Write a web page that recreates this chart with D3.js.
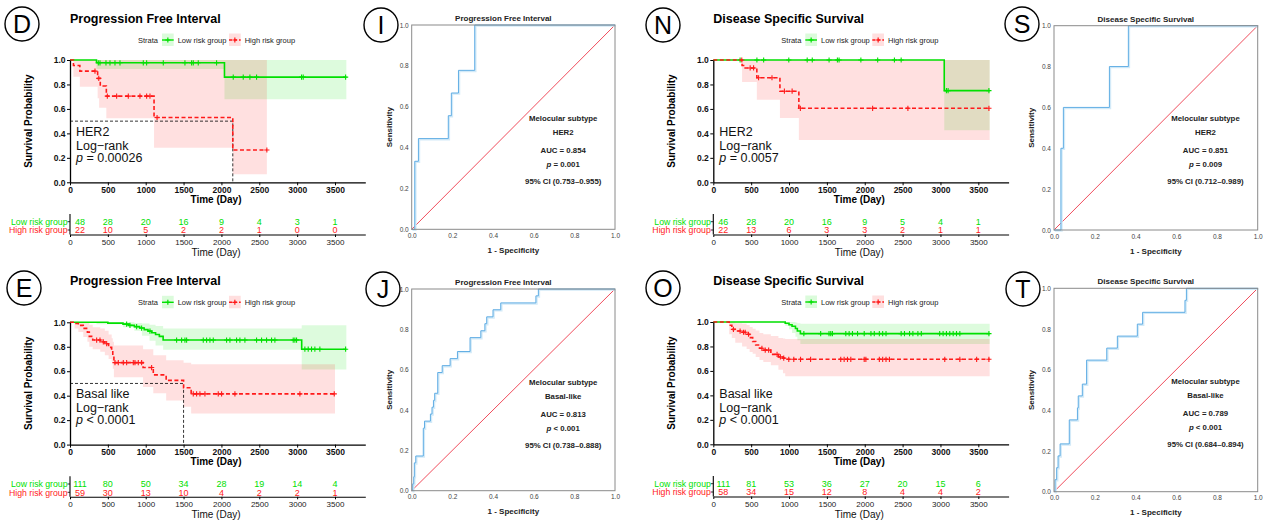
<!DOCTYPE html>
<html>
<head>
<meta charset="utf-8">
<script src="https://cdn.jsdelivr.net/npm/d3@7"></script>
<style>
  body { margin: 0; background: #fff; }
  svg { display: block; }
  text { font-family: "Liberation Sans", Arial, sans-serif; }
</style>
</head>
<body>
<svg id="fig" width="1263" height="523"></svg>
<script>
// ---- shared ticks / labels ----
var timeTicks = [0, 500, 1000, 1500, 2000, 2500, 3000, 3500];
var probTicks = [0, 0.2, 0.4, 0.6, 0.8, 1.0];
var rocTicks = [0, 0.2, 0.4, 0.6, 0.8, 1.0];
var riskLabels = ["Low risk group", "High risk group"];

// ---- D: PFI, HER2 ----
var dLowTime = [0, 350, 2040], dLowSurv = [1, 0.977, 0.86], dLowEnd = 3650;
var dLowCiTime = [350, 2040], dLowCiLo = [0.926, 0.68], dLowCiHi = [1, 1];
var dLowCens = [374, 396, 475, 528, 594, 660, 968, 1012, 1232, 1518, 1606, 1628, 1694, 1936, 2156, 2288, 2376, 2464, 3058, 3080, 3640];
var dHighTime = [0, 45, 130, 365, 400, 480, 1110, 2150], dHighSurv = [1, 0.955, 0.909, 0.85, 0.787, 0.705, 0.53, 0.264], dHighEnd = 2600;
var dHighCiTime = [45, 130, 365, 385, 400, 480, 1110, 2150], dHighCiLo = [0.864, 0.782, 0.687, 0.61, 0.61, 0.523, 0.283, 0.065], dHighCiHi = [1, 1, 1, 1, 1, 1, 1, 1];
var dHighCens = [330, 380, 493, 616, 770, 924, 1012, 1056, 1150, 2600];
var dRiskLow = [48, 28, 20, 16, 9, 4, 3, 1], dRiskHigh = [22, 10, 5, 2, 2, 1, 0, 0];

// ---- N: DSS, HER2 ----
var nLowTime = [0, 3050], nLowSurv = [1, 0.75], nLowEnd = 3650;
var nLowCiTime = [3050], nLowCiLo = [0.425], nLowCiHi = [1];
var nLowCens = [354, 576, 665, 997, 1240, 1307, 1529, 1639, 1661, 1949, 2171, 2392, 2481, 3079, 3101, 3640];
var nHighTime = [0, 380, 400, 575, 880, 1130], nHighSurv = [1, 0.955, 0.935, 0.855, 0.745, 0.605], nHighEnd = 3650;
var nHighCiTime = [380, 575, 880, 1130], nHighCiLo = [0.82, 0.675, 0.525, 0.345], nHighCiHi = [1, 1, 1, 1];
var nHighCens = [376, 487, 532, 598, 775, 939, 1041, 1150, 2104, 2570, 3640];
var nRiskLow = [46, 28, 20, 16, 9, 5, 4, 1], nRiskHigh = [22, 13, 6, 3, 3, 2, 1, 1];

// ---- E: PFI, Basal like ----
var eLowTime = [0, 500, 700, 780, 850, 920, 980, 1030, 1080, 1130, 1180, 1230, 3060];
var eLowSurv = [1, 0.993, 0.985, 0.975, 0.965, 0.953, 0.94, 0.928, 0.915, 0.9, 0.885, 0.855, 0.78], eLowEnd = 3650;
var eLowCiTime = [350, 700, 850, 950, 1050, 1130, 1230, 3060];
var eLowCiLo = [0.985, 0.96, 0.93, 0.89, 0.85, 0.81, 0.775, 0.615];
var eLowCiHi = [1, 1, 0.995, 0.99, 0.98, 0.97, 0.95, 0.975];
var eLowCens = [748, 792, 880, 946, 1056, 1408, 1474, 1518, 1540, 1760, 1804, 1848, 1892, 2068, 2112, 2200, 2244, 2310, 2464, 2530, 2596, 2662, 2706, 2948, 2970, 2992, 3102, 3146, 3190, 3234, 3300, 3640];
var eHighTime = [0, 60, 110, 175, 230, 255, 300, 400, 460, 510, 550, 565, 580, 965, 1100, 1270, 1500, 1600];
var eHighSurv = [1, 0.99, 0.975, 0.95, 0.92, 0.885, 0.855, 0.84, 0.825, 0.795, 0.77, 0.73, 0.67, 0.63, 0.57, 0.525, 0.465, 0.415], eHighEnd = 3500;
var eHighCiTime = [60, 110, 175, 230, 255, 300, 400, 460, 510, 550, 565, 580, 965, 1100, 1270, 1500, 1600];
var eHighCiLo = [0.95, 0.92, 0.88, 0.84, 0.8, 0.78, 0.76, 0.73, 0.7, 0.68, 0.62, 0.55, 0.47, 0.42, 0.36, 0.31, 0.255];
var eHighCiHi = [1, 1, 1, 1, 0.98, 0.96, 0.95, 0.93, 0.9, 0.87, 0.84, 0.81, 0.78, 0.73, 0.69, 0.67, 0.656];
var eHighCens = [352, 396, 440, 484, 594, 638, 704, 748, 836, 858, 902, 946, 1078, 1628, 1672, 1716, 1782, 1958, 2002, 2178, 3036, 3490];
var eRiskLow = [111, 80, 50, 34, 28, 19, 14, 4], eRiskHigh = [59, 30, 13, 10, 4, 2, 2, 1];

// ---- O: DSS, Basal like ----
var oLowTime = [0, 950, 1000, 1040, 1085, 1110, 1150], oLowSurv = [1, 0.99, 0.978, 0.965, 0.947, 0.927, 0.905], oLowEnd = 3650;
var oLowCiTime = [950, 1000, 1040, 1085, 1110, 1150], oLowCiLo = [0.97, 0.94, 0.91, 0.88, 0.85, 0.82], oLowCiHi = [1, 1, 1, 0.995, 0.99, 0.985];
var oLowCens = [1196, 1418, 1528, 1551, 1573, 1750, 1794, 1838, 1905, 1993, 2082, 2126, 2193, 2237, 2281, 2481, 2525, 2592, 2636, 2702, 2747, 2990, 3035, 3079, 3123, 3168, 3212, 3256, 3640];
var oHighTime = [0, 210, 245, 290, 380, 440, 480, 520, 560, 610, 660, 760, 860, 920, 950];
var oHighSurv = [1, 0.973, 0.94, 0.926, 0.916, 0.9, 0.872, 0.84, 0.812, 0.785, 0.77, 0.735, 0.715, 0.705, 0.695], oHighEnd = 3650;
var oHighCiTime = [210, 245, 290, 380, 440, 480, 520, 560, 610, 660, 760, 860, 920, 950];
var oHighCiLo = [0.9, 0.87, 0.83, 0.8, 0.78, 0.755, 0.74, 0.714, 0.69, 0.673, 0.646, 0.61, 0.58, 0.556];
var oHighCiHi = [1, 1, 0.99, 0.985, 0.975, 0.96, 0.945, 0.93, 0.91, 0.9, 0.885, 0.87, 0.865, 0.86];
var oHighCens = [266, 354, 399, 421, 465, 642, 686, 731, 842, 886, 930, 997, 1063, 1152, 1285, 1683, 1728, 1772, 1816, 1993, 2015, 2193, 2237, 2281, 2326, 3057, 3256, 3478, 3640];
var oRiskLow = [111, 81, 53, 36, 27, 20, 15, 6], oRiskHigh = [58, 34, 15, 12, 8, 4, 4, 2];

// ---- ROC curves (corner points, drawn as steps) ----
var iFpr = [0, 0.015, 0.033, 0.18, 0.195, 0.23, 0.31, 1];
var iTpr = [0, 0.333, 0.444, 0.556, 0.667, 0.778, 1, 1];
var sFpr = [0, 0.034, 0.046, 0.272, 0.365, 1];
var sTpr = [0, 0.4, 0.6, 0.8, 1, 1];
var jFpr = [0, 0.005, 0.01, 0.013, 0.02, 0.057, 0.063, 0.092, 0.1, 0.107, 0.113, 0.128, 0.15, 0.189, 0.225, 0.287, 0.34, 0.36, 0.369, 0.4, 0.438, 0.611, 0.623, 1];
var jTpr = [0, 0.034, 0.069, 0.138, 0.172, 0.31, 0.345, 0.38, 0.414, 0.448, 0.483, 0.586, 0.62, 0.655, 0.69, 0.759, 0.793, 0.828, 0.862, 0.897, 0.931, 0.966, 1, 1];
var tFpr = [0, 0.005, 0.013, 0.02, 0.03, 0.075, 0.115, 0.119, 0.139, 0.16, 0.259, 0.311, 0.409, 0.435, 0.643, 0.65, 1];
var tTpr = [0, 0.059, 0.118, 0.176, 0.235, 0.353, 0.412, 0.471, 0.529, 0.647, 0.706, 0.765, 0.824, 0.882, 0.941, 1, 1];

var green = "#00E000", red = "#FF1A1A";
var svg = d3.select("#fig");

function survAt(times, vals, t) {
  var v = vals[0];
  for (var i = 0; i < times.length; i++) { if (times[i] <= t) v = vals[i]; }
  return v;
}

function letterBadge(cx, cy, ch) {
  svg.append("circle").attr("cx", cx).attr("cy", cy).attr("r", 17)
    .attr("fill", "#fff").attr("stroke", "#000").attr("stroke-width", 1.4);
  svg.append("text").attr("x", cx).attr("y", cy + 9).attr("text-anchor", "middle")
    .style("font-size", "25px").text(ch);
}

function drawKM(ox, oy, p) {
  var g = svg.append("g");
  var x0 = ox + 70;
  var x = d3.scaleLinear().domain([0, 3900]).range([x0, x0 + 295.3]);
  var y = d3.scaleLinear().domain([0, 1]).range([oy + 182.3, oy + 60]);

  letterBadge(p.lx, p.ly, p.letter);
  g.append("text").attr("x", x0).attr("y", oy + 23).style("font-size", "12.5px")
    .style("font-weight", "bold").text(p.title);

  // legend
  var lg = g.append("g").style("font-size", "7.5px").style("fill", "#222");
  lg.append("text").attr("x", ox + 138).attr("y", oy + 42.5).text("Strata");
  [[p.low, green, null, 162, riskLabels[0]], [p.high, red, "3,2", 229, riskLabels[1]]].forEach(function (k) {
    var kx = ox + k[3];
    lg.append("rect").attr("x", kx).attr("y", oy + 33.5).attr("width", 11.7).attr("height", 12.5)
      .attr("fill", k[1]).attr("fill-opacity", 0.14);
    lg.append("line").attr("x1", kx).attr("x2", kx + 11.7).attr("y1", oy + 40).attr("y2", oy + 40)
      .attr("stroke", k[1]).attr("stroke-width", 1.4).attr("stroke-dasharray", k[2]);
    lg.append("path").attr("d", "M" + (kx + 3.3) + "," + (oy + 40) + "h5M" + (kx + 5.85) + "," + (oy + 37.5) + "v5")
      .attr("stroke", k[1]).attr("stroke-width", 1.2);
    lg.append("text").attr("x", kx + 15.7).attr("y", oy + 42.5).text(k[4]);
  });

  // confidence bands
  [[p.low, green], [p.high, red]].forEach(function (s) {
    var d = s[0];
    var pts = d.ciTime.map(function (t, i) { return [t, d.ciLo[i], d.ciHi[i]]; });
    pts.push([d.end, d.ciLo[d.ciLo.length - 1], d.ciHi[d.ciHi.length - 1]]);
    var area = d3.area().curve(d3.curveStepAfter)
      .x(function (q) { return x(q[0]); })
      .y0(function (q) { return y(q[1]); })
      .y1(function (q) { return y(q[2]); });
    g.append("path").attr("d", area(pts)).attr("fill", s[1]).attr("fill-opacity", 0.135);
  });

  // median line
  var med = null;
  for (var i = 0; i < p.high.time.length; i++) {
    if (p.high.surv[i] <= 0.5) { med = p.high.time[i]; break; }
  }
  if (med !== null) {
    g.append("path").attr("d", "M" + x(0) + "," + y(0.5) + "H" + x(med) + "V" + y(0))
      .attr("fill", "none").attr("stroke", "#000").attr("stroke-width", 0.8).attr("stroke-dasharray", "3,2");
  }

  // curves + censor marks
  [[p.low, green, null], [p.high, red, "4,2.5"]].forEach(function (s) {
    var d = s[0];
    var pts = d.time.map(function (t, i) { return [t, d.surv[i]]; });
    pts.push([d.end, d.surv[d.surv.length - 1]]);
    var line = d3.line().curve(d3.curveStepAfter)
      .x(function (q) { return x(q[0]); }).y(function (q) { return y(q[1]); });
    g.append("path").attr("d", line(pts)).attr("fill", "none").attr("stroke", s[1])
      .attr("stroke-width", 1.6).attr("stroke-dasharray", s[2]);
    g.selectAll(null).data(d.cens).enter().append("path")
      .attr("d", function (t) {
        var cx = x(t), cy = y(survAt(d.time, d.surv, t));
        return "M" + (cx - 2.6) + "," + cy + "h5.2M" + cx + "," + (cy - 2.6) + "v5.2";
      })
      .attr("stroke", s[1]).attr("stroke-width", 1.1);
  });

  // axes
  var ya = g.append("g").attr("transform", "translate(" + x0 + ",0)")
    .call(d3.axisLeft(y).tickValues(probTicks).tickFormat(d3.format(".1f")).tickSize(3).tickSizeOuter(0).tickPadding(1.5));
  var xa = g.append("g").attr("transform", "translate(0," + y(0) + ")")
    .call(d3.axisBottom(x).tickValues(timeTicks).tickFormat(d3.format("d")).tickSize(3).tickSizeOuter(0).tickPadding(1.5));
  [ya, xa].forEach(function (a) {
    a.select(".domain").attr("stroke", "#000").attr("stroke-width", 1.3);
    a.selectAll(".tick line").attr("stroke", "#000").attr("stroke-width", 1);
    a.selectAll("text").style("font-size", "8.5px").style("font-weight", "bold").attr("fill", "#111");
  });
  g.append("text").attr("x", ox + 216).attr("y", oy + 203).attr("text-anchor", "middle")
    .style("font-size", "10px").style("font-weight", "bold").text("Time (Day)");
  g.append("text").attr("transform", "translate(" + (ox + 31.5) + "," + (oy + 121) + ") rotate(-90)")
    .attr("text-anchor", "middle").style("font-size", "10px").style("font-weight", "bold")
    .text("Survival Probability");

  // annotation
  var an = g.append("g").style("font-size", "12.5px").attr("fill", "#111");
  an.append("text").attr("x", x0 + 6).attr("y", oy + 135.5).text(p.subtype);
  an.append("text").attr("x", x0 + 6).attr("y", oy + 149.5).text("Log\u2212rank");
  var pt = an.append("text").attr("x", x0 + 6).attr("y", oy + 162);
  pt.append("tspan").style("font-style", "italic").text("p");
  pt.append("tspan").text(" " + p.pText);

  // risk table
  var rt = g.append("g");
  var ry = [oy + 225, oy + 233.3];
  rt.append("line").attr("x1", x0).attr("x2", x0).attr("y1", oy + 214).attr("y2", oy + 234.5)
    .attr("stroke", "#000").attr("stroke-width", 1.1);
  [[p.riskLow, green], [p.riskHigh, red]].forEach(function (r, k) {
    rt.append("line").attr("x1", x0 - 2.5).attr("x2", x0).attr("y1", ry[k] - 3.3).attr("y2", ry[k] - 3.3)
      .attr("stroke", "#000").attr("stroke-width", 0.8);
    rt.append("text").attr("x", x0 - 2.5).attr("y", ry[k]).attr("text-anchor", "end")
      .style("font-size", "8.7px").attr("fill", r[1]).text(riskLabels[k]);
    rt.selectAll(null).data(r[0]).enter().append("text")
      .attr("x", function (v, i) { return i === 0 ? x(timeTicks[i]) + 10 : x(timeTicks[i]); })
      .attr("y", ry[k]).attr("text-anchor", "middle").style("font-size", "9px").attr("fill", r[1])
      .text(function (v) { return v; });
  });
  var ra = rt.append("g").attr("transform", "translate(0," + (oy + 234.5) + ")")
    .call(d3.axisBottom(x).tickValues(timeTicks).tickFormat(d3.format("d")).tickSize(2.5).tickSizeOuter(0).tickPadding(2));
  ra.select(".domain").attr("stroke", "#000").attr("stroke-width", 1.1);
  ra.selectAll("text").style("font-size", "8px").attr("fill", "#222");
  rt.append("text").attr("x", ox + 216).attr("y", oy + 256).attr("text-anchor", "middle")
    .style("font-size", "10px").attr("fill", "#111").text("Time (Day)");
}

function drawROC(bx0, by0, bx1, by1, p) {
  var g = svg.append("g");
  var x = d3.scaleLinear().domain([0, 1]).range([bx0, bx1]);
  var y = d3.scaleLinear().domain([0, 1]).range([by1, by0]);
  var cx = (bx0 + bx1) / 2;

  g.append("text").attr("x", cx - 10).attr("y", by0 - 4).attr("text-anchor", "middle")
    .style("font-size", "8px").style("font-weight", "bold").attr("fill", "#222").text(p.title);

  g.append("line").attr("x1", x(0)).attr("y1", y(0)).attr("x2", x(1)).attr("y2", y(1))
    .attr("stroke", "#F04C5C").attr("stroke-width", 1);

  var pts = p.fpr.map(function (f, i) { return [f, p.tpr[i]]; });
  var line = d3.line().curve(d3.curveStepAfter)
    .x(function (q) { return x(q[0]); }).y(function (q) { return y(q[1]); });
  g.append("path").attr("d", line(pts)).attr("fill", "none").attr("stroke", "#D3EAF8")
    .attr("stroke-width", 2).attr("transform", "translate(0.8,0.8)");
  g.append("path").attr("d", line(pts)).attr("fill", "none").attr("stroke", "#62AEE4")
    .attr("stroke-width", 1);

  g.append("rect").attr("x", bx0).attr("y", by0).attr("width", bx1 - bx0).attr("height", by1 - by0)
    .attr("fill", "none").attr("stroke", "#8a8a8a").attr("stroke-width", 1);

  var ya = g.append("g").attr("transform", "translate(" + bx0 + ",0)")
    .call(d3.axisLeft(y).tickValues(rocTicks).tickFormat(d3.format(".1f")).tickSize(0).tickPadding(3));
  var xa = g.append("g").attr("transform", "translate(0," + by1 + ")")
    .call(d3.axisBottom(x).tickValues(rocTicks).tickFormat(d3.format(".1f")).tickSize(0).tickPadding(4));
  [ya, xa].forEach(function (a) {
    a.select(".domain").remove();
    a.selectAll("text").style("font-size", "6.5px").attr("fill", "#444");
  });

  g.append("text").attr("x", cx).attr("y", by1 + 23.5).attr("text-anchor", "middle")
    .style("font-size", "8px").style("font-weight", "bold").attr("fill", "#222").text("1 - Specificity");
  g.append("text").attr("transform", "translate(" + (bx0 - 20) + "," + ((by0 + by1) / 2) + ") rotate(-90)")
    .attr("text-anchor", "middle").style("font-size", "8px").style("font-weight", "bold")
    .attr("fill", "#222").text("Sensitivity");

  var ax = bx0 + 151.5;
  var at = g.append("g").style("font-size", "7.8px").style("font-weight", "bold").attr("fill", "#222")
    .attr("text-anchor", "middle");
  at.append("text").attr("x", ax).attr("y", by0 + 95.7).text("Melocular subtype");
  at.append("text").attr("x", ax).attr("y", by0 + 109.7).text(p.subtype);
  at.append("text").attr("x", ax).attr("y", by0 + 127.7).text("AUC = " + p.auc);
  var pv = at.append("text").attr("x", ax).attr("y", by0 + 141.7);
  pv.append("tspan").style("font-style", "italic").text("p");
  pv.append("tspan").text(" " + p.pv);
  at.append("text").attr("x", ax).attr("y", by0 + 158.7).text("95% CI (" + p.ci + ")");

  letterBadge(p.lx, p.ly, p.letter);
}

drawKM(0, 0, {
  letter: "D", lx: 22, ly: 24, title: "Progression Free Interval", subtype: "HER2", pText: "= 0.00026",
  low: { time: dLowTime, surv: dLowSurv, end: dLowEnd, ciTime: dLowCiTime, ciLo: dLowCiLo, ciHi: dLowCiHi, cens: dLowCens },
  high: { time: dHighTime, surv: dHighSurv, end: dHighEnd, ciTime: dHighCiTime, ciLo: dHighCiLo, ciHi: dHighCiHi, cens: dHighCens },
  riskLow: dRiskLow, riskHigh: dRiskHigh
});
drawKM(643.3, 0, {
  letter: "N", lx: 663, ly: 25, title: "Disease Specific Survival", subtype: "HER2", pText: "= 0.0057",
  low: { time: nLowTime, surv: nLowSurv, end: nLowEnd, ciTime: nLowCiTime, ciLo: nLowCiLo, ciHi: nLowCiHi, cens: nLowCens },
  high: { time: nHighTime, surv: nHighSurv, end: nHighEnd, ciTime: nHighCiTime, ciLo: nHighCiLo, ciHi: nHighCiHi, cens: nHighCens },
  riskLow: nRiskLow, riskHigh: nRiskHigh
});
drawKM(0, 262.3, {
  letter: "E", lx: 24, ly: 288, title: "Progression Free Interval", subtype: "Basal like", pText: "< 0.0001",
  low: { time: eLowTime, surv: eLowSurv, end: eLowEnd, ciTime: eLowCiTime, ciLo: eLowCiLo, ciHi: eLowCiHi, cens: eLowCens },
  high: { time: eHighTime, surv: eHighSurv, end: eHighEnd, ciTime: eHighCiTime, ciLo: eHighCiLo, ciHi: eHighCiHi, cens: eHighCens },
  riskLow: eRiskLow, riskHigh: eRiskHigh
});
drawKM(643.3, 262, {
  letter: "O", lx: 663, ly: 288, title: "Disease Specific Survival", subtype: "Basal like", pText: "< 0.0001",
  low: { time: oLowTime, surv: oLowSurv, end: oLowEnd, ciTime: oLowCiTime, ciLo: oLowCiLo, ciHi: oLowCiHi, cens: oLowCens },
  high: { time: oHighTime, surv: oHighSurv, end: oHighEnd, ciTime: oHighCiTime, ciLo: oHighCiLo, ciHi: oHighCiHi, cens: oHighCens },
  riskLow: oRiskLow, riskHigh: oRiskHigh
});

drawROC(411.7, 25, 615, 229.3, { letter: "I", lx: 381, ly: 25, title: "Progression Free  Interval",
  fpr: iFpr, tpr: iTpr, subtype: "HER2", auc: "0.854", pv: "= 0.001", ci: "0.753\u20130.955" });
drawROC(1054, 25.7, 1257.7, 230, { letter: "S", lx: 1022, ly: 24, title: "Disease Specific Survival",
  fpr: sFpr, tpr: sTpr, subtype: "HER2", auc: "0.851", pv: "= 0.009", ci: "0.712\u20130.989" });
drawROC(411.7, 289, 615, 490.7, { letter: "J", lx: 383, ly: 289, title: "Progression Free  Interval",
  fpr: jFpr, tpr: jTpr, subtype: "Basal-like", auc: "0.813", pv: "< 0.001", ci: "0.738\u20130.888" });
drawROC(1054, 288.3, 1257.7, 491.7, { letter: "T", lx: 1023, ly: 289, title: "Disease Specific Survival",
  fpr: tFpr, tpr: tTpr, subtype: "Basal-like", auc: "0.789", pv: "< 0.001", ci: "0.684\u20130.894" });
</script>
</body>
</html>
